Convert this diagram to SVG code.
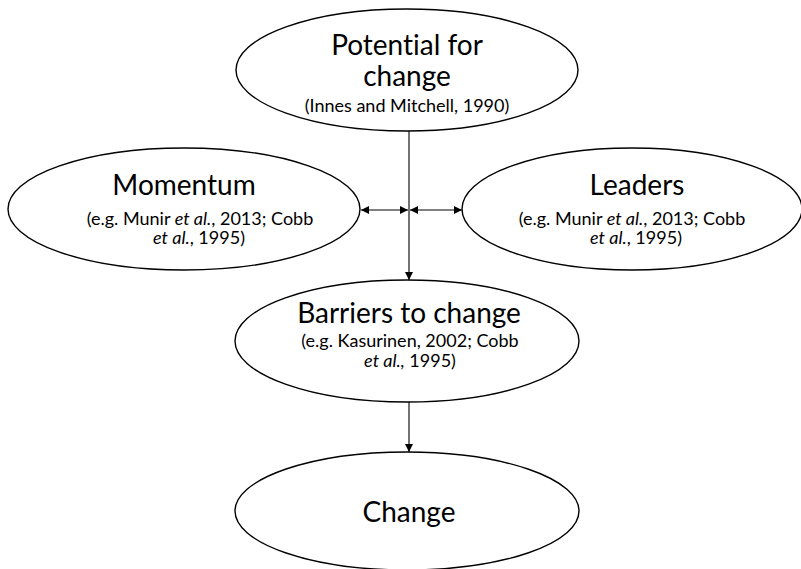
<svg xmlns="http://www.w3.org/2000/svg" width="801" height="569" viewBox="0 0 801 569">
<defs>
<marker id="ah" viewBox="0 0 10 10" refX="10" refY="5" markerWidth="9" markerHeight="8" markerUnits="userSpaceOnUse" orient="auto-start-reverse">
<path d="M0,0 L10,5 L0,10 z" fill="#000"/>
</marker>
<style>
.node ellipse{fill:#fff;stroke:#000;stroke-width:1.4}
.t{font-family:Lato,"Open Sans",sans-serif;fill:#000;text-anchor:middle;font-variant-ligatures:none}
.big{font-size:28px}
.sm{font-size:18px}
.conn line{stroke:#000;stroke-width:1.1;fill:none}
</style>
</defs>
<rect width="801" height="569" fill="#fff"/>
<g class="conn" id="connectors">
<line x1="409" y1="131" x2="409" y2="280" marker-end="url(#ah)"/>
<line x1="409" y1="402" x2="409" y2="452" marker-end="url(#ah)"/>
<line x1="361" y1="210" x2="408" y2="210" marker-start="url(#ah)" marker-end="url(#ah)"/>
<line x1="410" y1="210" x2="462" y2="210" marker-start="url(#ah)" marker-end="url(#ah)"/>
</g>
<g class="node" id="potential">
<ellipse cx="407" cy="70" rx="171" ry="61"/>
<text class="t big" x="407" y="55">Potential for</text>
<text class="t big" x="407" y="86">change</text>
<text class="t sm" x="407" y="112">(Innes and Mitchell, 1990)</text>
</g>
<g class="node" id="momentum">
<ellipse cx="184" cy="209" rx="176" ry="61"/>
<text class="t big" x="184" y="195">Momentum</text>
<text class="t sm" x="200" y="225">(e.g. Munir <tspan font-style="italic">et al.</tspan>, 2013; Cobb</text>
<text class="t sm" x="199" y="244"><tspan font-style="italic">et al.</tspan>, 1995)</text>
</g>
<g class="node" id="leaders">
<ellipse cx="632" cy="209" rx="170" ry="61"/>
<text class="t big" x="637" y="195">Leaders</text>
<text class="t sm" x="632" y="225">(e.g. Munir <tspan font-style="italic">et al.</tspan>, 2013; Cobb</text>
<text class="t sm" x="636" y="244"><tspan font-style="italic">et al.</tspan>, 1995)</text>
</g>
<g class="node" id="barriers">
<ellipse cx="407" cy="341" rx="172" ry="61"/>
<text class="t big" x="409" y="323">Barriers to change</text>
<text class="t sm" x="410" y="347">(e.g. Kasurinen, 2002; Cobb</text>
<text class="t sm" x="410" y="367"><tspan font-style="italic">et al.,</tspan> 1995)</text>
</g>
<g class="node" id="change">
<ellipse cx="407" cy="511" rx="172" ry="59"/>
<text class="t big" x="409" y="522">Change</text>
</g>
</svg>
